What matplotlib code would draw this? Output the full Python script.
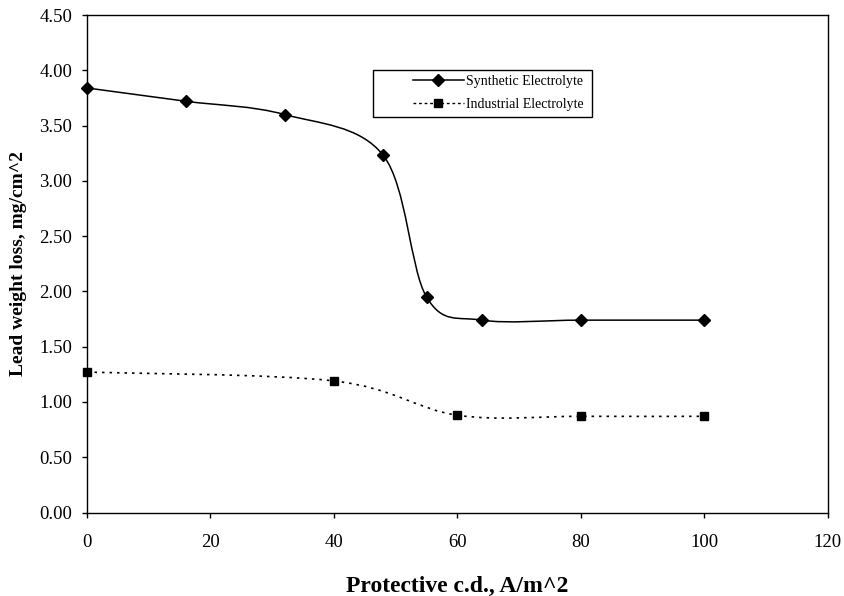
import numpy as np
import matplotlib
matplotlib.use('Agg')
import matplotlib.pyplot as plt
from matplotlib.path import Path
from matplotlib.patches import PathPatch, Rectangle
from matplotlib.lines import Line2D

plt.rcParams['font.family'] = ['Liberation Serif', 'DejaVu Serif']

# data
synth_x = [0, 16, 32, 48, 55, 64, 80, 100]
synth_y = [3.84, 3.72, 3.60, 3.23, 1.95, 1.74, 1.74, 1.74]
indus_x = [0, 40, 60, 80, 100]
indus_y = [1.27, 1.19, 0.88, 0.87, 0.87]

x_ticks = [0, 20, 40, 60, 80, 100, 120]
y_ticks = [0.0, 0.5, 1.0, 1.5, 2.0, 2.5, 3.0, 3.5, 4.0, 4.5]


def smooth_path(xs, ys):
    """Excel-style smoothed line: cubic Bezier through the points."""
    p = np.column_stack([xs, ys]).astype(float)
    n = len(p)
    verts = [p[0]]
    codes = [Path.MOVETO]
    for i in range(n - 1):
        p0 = p[i - 1] if i > 0 else p[i]
        p3 = p[i + 2] if i + 2 < n else p[i + 1]
        c1 = p[i] + (p[i + 1] - p0) / 6.0
        c2 = p[i + 1] - (p3 - p[i]) / 6.0
        verts += [c1, c2, p[i + 1]]
        codes += [Path.CURVE4] * 3
    return Path(verts, codes)


fig = plt.figure(figsize=(8.44, 5.96), dpi=100)
ax = fig.add_axes([0.1031, 0.1401, 0.8776, 0.8347])

ax.add_patch(PathPatch(smooth_path(synth_x, synth_y), fill=False,
                       edgecolor='black', linewidth=1.1))
ax.plot(synth_x, synth_y, linestyle='none', marker='D', markersize=6,
        color='black', clip_on=False, zorder=3)

ax.add_patch(PathPatch(smooth_path(indus_x, indus_y), fill=False,
                       edgecolor='black', linewidth=1.2,
                       linestyle=(0, (1.5, 3))))
ax.plot(indus_x, indus_y, linestyle='none', marker='s', markersize=5.5,
        color='black', clip_on=False, zorder=3)

ax.set_xlim(0, 120)
ax.set_ylim(0, 4.5)
ax.set_xticks(x_ticks)
ax.set_yticks(y_ticks)
ax.set_yticklabels(['%.2f' % v for v in y_ticks])
ax.tick_params(axis='both', direction='out', length=3.6, width=1.0,
               labelsize=13.5, colors='black')
ax.tick_params(axis='x', pad=12)
ax.tick_params(axis='y', pad=7)
for s in ax.spines.values():
    s.set_linewidth(1.0)
    s.set_color('black')

ax.set_xlabel('Protective c.d., A/m^2', fontsize=17, fontweight='bold')
ax.xaxis.label.set_va('baseline')
ax.xaxis.set_label_coords(0.5, -0.16)
ax.set_ylabel('Lead weight loss, mg/cm^2', fontsize=14, fontweight='bold')
ax.yaxis.label.set_va('center')
ax.yaxis.set_label_coords(-0.093, 0.5)

# legend box
ax.add_patch(Rectangle((0.386, 0.795), 0.2957, 0.0945, transform=ax.transAxes,
                       fill=False, edgecolor='black', linewidth=1.0))
handles = [
    Line2D([0], [0], color='black', linewidth=1.1, marker='D', markersize=6,
           label='Synthetic Electrolyte'),
    Line2D([0], [0], color='black', linewidth=1.0, linestyle=(0, (2, 2)),
           marker='s', markersize=5.5, label='Industrial Electrolyte'),
]
ax.legend(handles=handles, loc='upper left', bbox_to_anchor=(0.440, 0.879),
          frameon=False, fontsize=10, borderpad=0, borderaxespad=0,
          handlelength=3.67, handletextpad=0.15, labelspacing=0.7)

fig.savefig('out.png', dpi=100)
